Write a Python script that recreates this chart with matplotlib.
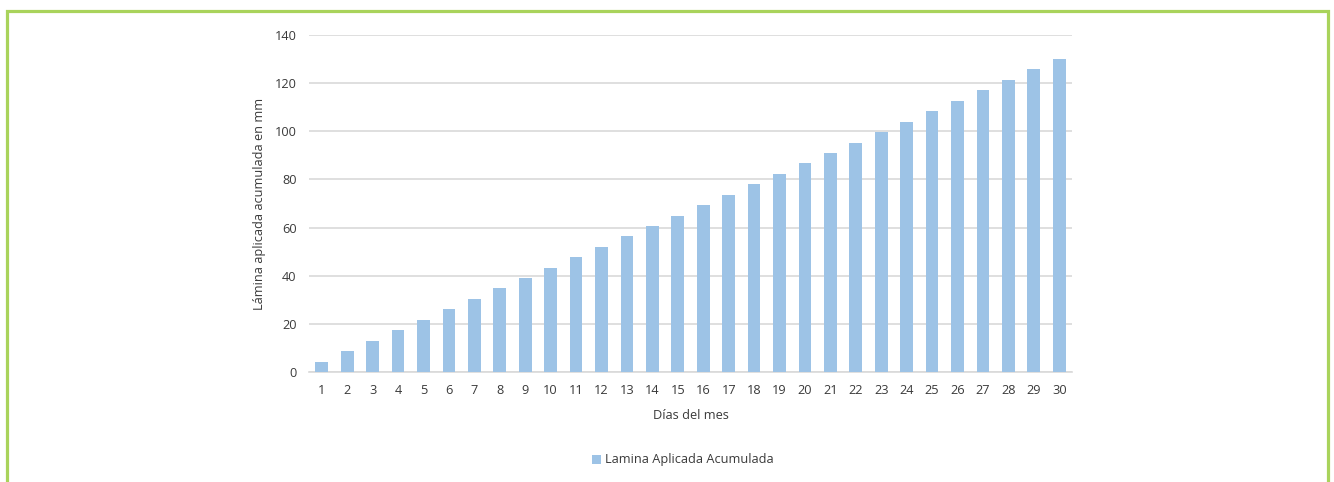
import numpy as np
import matplotlib.pyplot as plt
from matplotlib.patches import Rectangle

# Days of the month and accumulated applied depth (mm)
dias = list(range(1, 31))
lamina = [4.3, 8.7, 13.0, 17.3, 21.7, 26.0, 30.3, 34.7, 39.0, 43.3,
          47.7, 52.0, 56.3, 60.7, 65.0, 69.3, 73.7, 78.0, 82.3, 86.7,
          91.0, 95.3, 99.7, 104.0, 108.3, 112.7, 117.0, 121.3, 125.7, 130.0]
y_ticks = [0, 20, 40, 60, 80, 100, 120, 140]

plt.rcParams['font.family'] = ['Open Sans', 'DejaVu Sans']
txt = '#3a3a3a'
grid = '#d9d9d9'

fig = plt.figure(figsize=(13.34, 4.82), dpi=100)
ax = fig.add_axes([309 / 1334, 1 - 372 / 482, 763 / 1334, 337 / 482])

ax.bar(dias, lamina, width=0.5, color='#9dc3e6', label='Lamina Aplicada Acumulada',
       zorder=3)

ax.set_xlim(0.5, 30.5)
ax.set_ylim(0, 140)
ax.set_yticks(y_ticks)
ax.set_xticks(dias)
ax.yaxis.grid(True, color=grid, linewidth=1.2, zorder=0)
for s in ['top', 'right', 'left']:
    ax.spines[s].set_visible(False)
ax.spines['bottom'].set_color(grid)
ax.spines['bottom'].set_linewidth(1.2)
ax.tick_params(axis='both', length=0, labelsize=9.2, colors=txt)
ax.tick_params(axis='x', pad=9)
ax.tick_params(axis='y', pad=9)

ax.set_xlabel('Días del mes', fontsize=9.2, color=txt, labelpad=8)
ax.set_ylabel('Lámina aplicada acumulada en mm', fontsize=9.2, color=txt, labelpad=6)

fig.legend(loc='center', bbox_to_anchor=(683 / 1334, 1 - 460 / 482), frameon=False,
           fontsize=9.2, labelcolor=txt, handlelength=0.7, handleheight=0.7,
           handletextpad=0.3)

# green frame around the figure
fig.patches.append(Rectangle((6.5 / 1334, -0.05), 1321 / 1334, 1 - 10.5 / 482 + 0.05,
                             transform=fig.transFigure, fill=False,
                             edgecolor='#a9d35b', linewidth=2.3))

fig.savefig('out.png', dpi=100)
